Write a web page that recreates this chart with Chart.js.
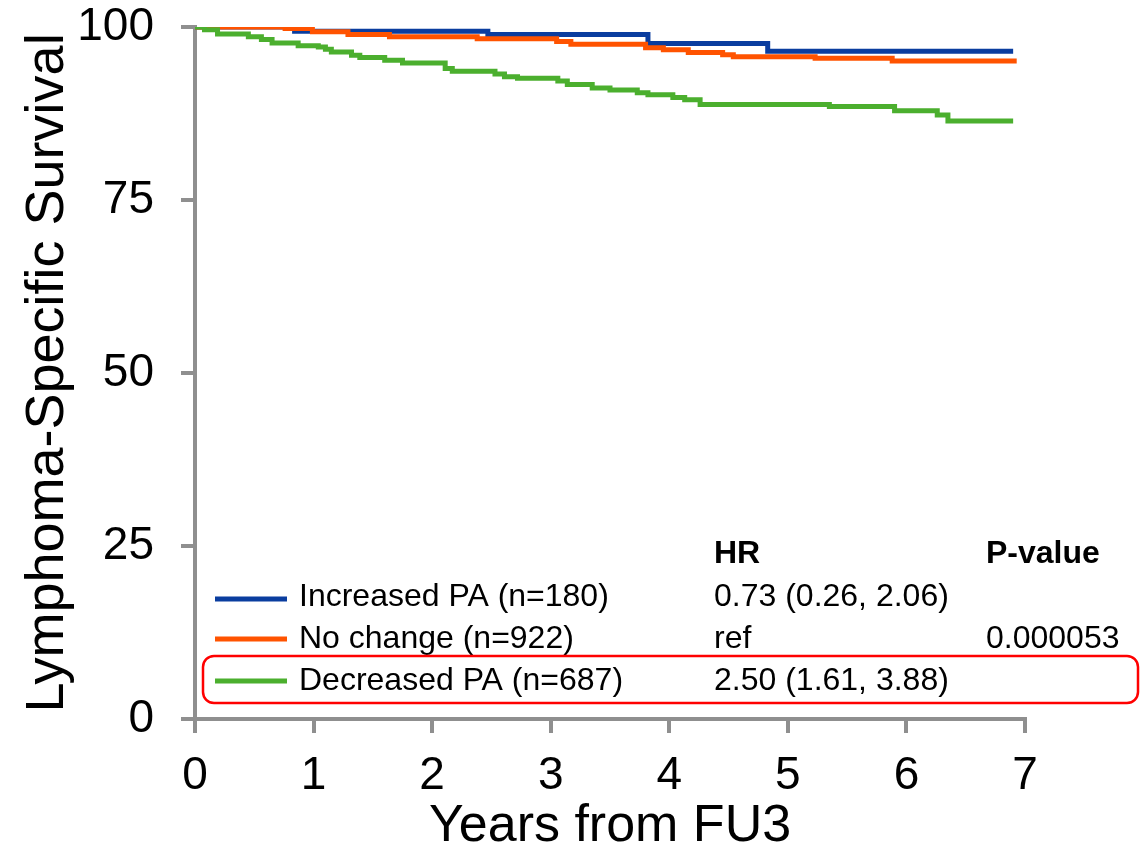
<!DOCTYPE html>
<html>
<head>
<meta charset="utf-8">
<script src="https://cdn.jsdelivr.net/npm/chart.js@4.4.1/dist/chart.umd.min.js"></script>
<style>
  html, body { margin: 0; padding: 0; background: #FFFFFF; }
  #wrap { width: 1147px; height: 858px; }
</style>
</head>
<body>
<div id="wrap"><canvas id="km" width="1147" height="858"></canvas></div>
<script>
  // Kaplan-Meier steps: time (years) and survival (%) after each drop
  const increasedTimes = [0, 0.84, 2.47, 3.82, 4.83, 6.90];
  const increasedSurv = [100, 99.4, 98.9, 97.6, 96.5, 96.5];

  const noChangeTimes = [0, 0.76, 0.99, 1.29, 1.64, 2.38, 3.05, 3.17, 3.80, 3.95, 4.16, 4.45, 4.54, 5.23, 5.88, 6.93];
  const noChangeSurv = [100, 99.8, 99.3, 98.9, 98.6, 98.3, 97.9, 97.5, 97.0, 96.7, 96.3, 96.0, 95.7, 95.5, 95.1, 95.1];

  const decreasedTimes = [0, 0.08, 0.19, 0.45, 0.56, 0.65, 0.87, 1.04, 1.10, 1.15, 1.32, 1.39, 1.60, 1.75, 2.11, 2.17,
    2.53, 2.61, 2.72, 3.06, 3.14, 3.35, 3.50, 3.73, 3.82, 4.03, 4.13, 4.26, 5.35, 5.90, 6.26, 6.35, 6.90];
  const decreasedSurv = [100, 99.6, 99.0, 98.6, 98.2, 97.7, 97.3, 97.1, 96.8, 96.4, 95.9, 95.6, 95.2, 94.8, 94.0, 93.6,
    93.2, 92.8, 92.6, 92.2, 91.7, 91.2, 90.9, 90.5, 90.2, 89.8, 89.5, 88.8, 88.5, 87.9, 87.3, 86.4, 86.4];

  const groupLabels = ["Increased PA (n=180)", "No change (n=922)", "Decreased PA (n=687)"];
  const hrLabels = ["0.73 (0.26, 2.06)", "ref", "2.50 (1.61, 3.88)"];
  const pLabels = ["", "0.000053", ""];
  const xTicks = [0, 1, 2, 3, 4, 5, 6, 7];
  const yTicks = [0, 25, 50, 75, 100];

  const COLORS = {
    blue: "#0A3D9F",
    orange: "#FF5300",
    green: "#4BAF2E",
    axis: "#8F8F8F",
    text: "#000000",
    box: "#FF0000",
  };
  const FONT = "'Liberation Sans', Arial, sans-serif";

  function toPoints(times, surv) {
    return times.map((t, i) => ({ x: t, y: surv[i] }));
  }

  function curve(times, surv, color, order) {
    return {
      data: toPoints(times, surv),
      borderColor: color,
      backgroundColor: color,
      borderWidth: 5,
      pointRadius: 0,
      stepped: true,
      fill: false,
      order,
    };
  }

  // HR / p-value table with line swatches, drawn over the plot area
  const tablePlugin = {
    id: "hrTable",
    afterDraw(chart) {
      const ctx = chart.ctx;
      const colors = [COLORS.blue, COLORS.orange, COLORS.green];
      const rowBase = [606, 648, 690];
      const swatchY = [599, 639, 681];

      ctx.save();
      ctx.fillStyle = COLORS.text;
      ctx.textBaseline = "alphabetic";
      ctx.textAlign = "left";

      ctx.font = "bold 32px " + FONT;
      ctx.fillText("HR", 714, 563);
      ctx.fillText("P-value", 986, 563);

      ctx.font = "32px " + FONT;
      groupLabels.forEach((label, i) => {
        ctx.strokeStyle = colors[i];
        ctx.lineWidth = 5;
        ctx.beginPath();
        ctx.moveTo(215, swatchY[i]);
        ctx.lineTo(287, swatchY[i]);
        ctx.stroke();

        ctx.fillText(label, 299, rowBase[i]);
        ctx.fillText(hrLabels[i], 714, rowBase[i]);
        if (pLabels[i]) ctx.fillText(pLabels[i], 986, rowBase[i]);
      });

      // red highlight around the last row
      ctx.strokeStyle = COLORS.box;
      ctx.lineWidth = 2.5;
      ctx.beginPath();
      ctx.roundRect(203, 656, 935, 47, 11);
      ctx.stroke();
      ctx.restore();
    },
  };

  new Chart(document.getElementById("km").getContext("2d"), {
    type: "line",
    data: {
      datasets: [
        curve(increasedTimes, increasedSurv, COLORS.blue, 2),
        curve(noChangeTimes, noChangeSurv, COLORS.orange, 1),
        curve(decreasedTimes, decreasedSurv, COLORS.green, 0),
      ],
    },
    options: {
      responsive: false,
      animation: false,
      devicePixelRatio: 1,
      layout: { padding: { left: 0, top: 27, right: 122, bottom: 0 } },
      plugins: {
        legend: { display: false },
        tooltip: { enabled: false },
      },
      scales: {
        x: {
          type: "linear",
          min: 0,
          max: 7,
          afterBuildTicks(scale) {
            scale.ticks = xTicks.map((v) => ({ value: v }));
          },
          afterFit(scale) {
            scale.height = 139;
            scale.paddingLeft = 0;
            scale.paddingRight = 0;
          },
          ticks: { color: COLORS.text, font: { family: FONT, size: 46 }, padding: 16, maxRotation: 0 },
          grid: { drawOnChartArea: false, tickLength: 14, color: COLORS.axis, lineWidth: 4 },
          border: { color: COLORS.axis, width: 4 },
          title: {
            display: true,
            text: "Years from FU3",
            color: COLORS.text,
            font: { family: FONT, size: 52 },
            padding: { top: 0, bottom: 0 },
          },
        },
        y: {
          min: 0,
          max: 100,
          afterBuildTicks(scale) {
            scale.ticks = yTicks.map((v) => ({ value: v }));
          },
          afterFit(scale) {
            scale.width = 195;
            scale.paddingTop = 0;
            scale.paddingBottom = 0;
          },
          ticks: { color: COLORS.text, font: { family: FONT, size: 46 }, padding: 27 },
          grid: { drawOnChartArea: false, tickLength: 14, color: COLORS.axis, lineWidth: 4 },
          border: { color: COLORS.axis, width: 4 },
          title: {
            display: true,
            text: "Lymphoma-Specific Survival",
            color: COLORS.text,
            font: { family: FONT, size: 54 },
            padding: { top: 16, bottom: 0 },
          },
        },
      },
    },
    plugins: [tablePlugin],
  });
</script>
</body>
</html>
